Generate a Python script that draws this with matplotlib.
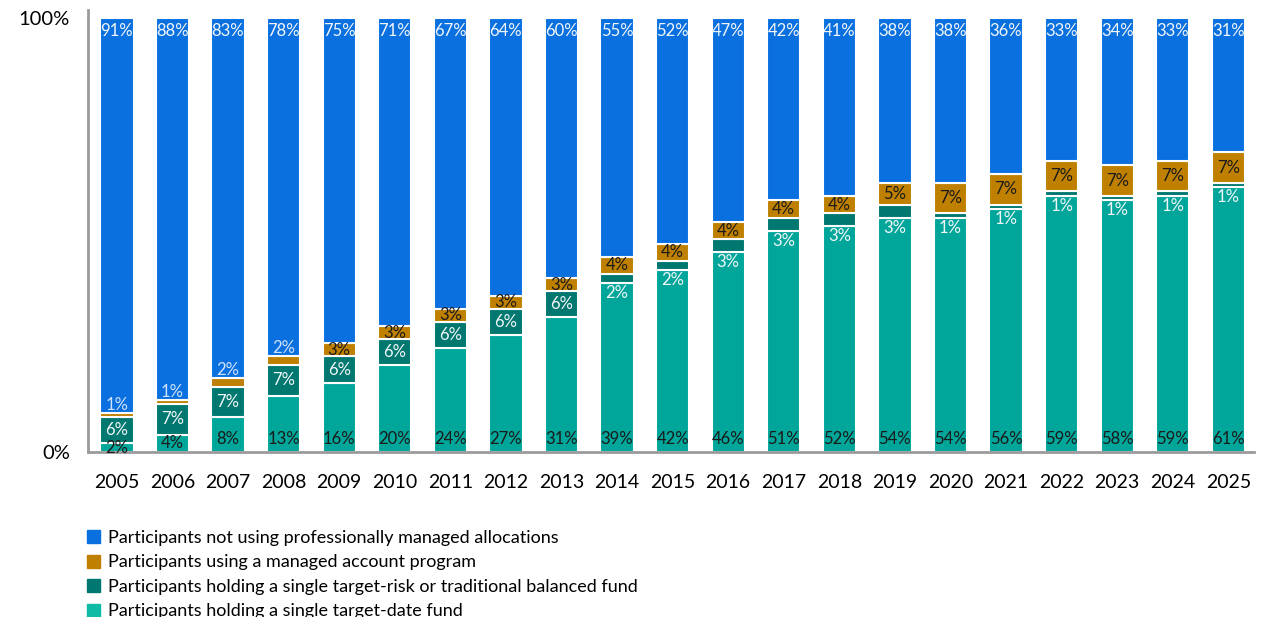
import matplotlib
matplotlib.use("Agg")
import matplotlib.pyplot as plt
import numpy as np

plt.rcParams['font.family'] = ['Lato', 'DejaVu Sans']

years = [str(y) for y in range(2005, 2026)]

# shares of participants, in percent
target_date = [2, 4, 8, 13, 16, 20, 24, 27, 31, 39, 42, 46, 51, 52, 54, 54, 56, 59, 58, 59, 61]
target_risk = [6, 7, 7, 7, 6, 6, 6, 6, 6, 2, 2, 3, 3, 3, 3, 1, 1, 1, 1, 1, 1]
managed_acct = [1, 1, 2, 2, 3, 3, 3, 3, 3, 4, 4, 4, 4, 4, 5, 7, 7, 7, 7, 7, 7]
not_managed = [91, 88, 83, 78, 75, 71, 67, 64, 60, 55, 52, 47, 42, 41, 38, 38, 36, 33, 34, 33, 31]

series_names = [
    "Participants not using professionally managed allocations",
    "Participants using a managed account program",
    "Participants holding a single target-risk or traditional balanced fund",
    "Participants holding a single target-date fund",
]

c_blue = "#0A70E0"
c_gold = "#BF8000"
c_dteal = "#00786F"
c_teal = "#00A69A"
dark_txt = "#1a1a1a"
light_txt = "#f2f6f8"

fig = plt.figure(figsize=(12.61, 6.17), dpi=100)
ax = fig.add_axes([0.0698, 0.2674, 0.925, 0.7164])

x = np.arange(len(years))
w = 0.6
td = np.array(target_date)
tr = np.array(target_risk)
ma = np.array(managed_acct)
nm = np.array(not_managed)

kw = dict(width=w, edgecolor="white", linewidth=1.5)
ax.bar(x, td, color=c_teal, **kw)
ax.bar(x, tr, bottom=td, color=c_dteal, **kw)
ax.bar(x, ma, bottom=td + tr, color=c_gold, **kw)
ax.bar(x, nm, bottom=td + tr + ma, color=c_blue, **kw)

fs = 12
for i in range(len(x)):
    # target-date: at the foot of the bar
    ax.text(x[i], min(td[i] / 2, 2.9), f"{td[i]}%", ha="center", va="center", fontsize=fs, color=dark_txt)
    # target-risk: inside when wide enough, otherwise just under it
    if tr[i] >= 5:
        ax.text(x[i], td[i] + tr[i] / 2, f"{tr[i]}%", ha="center", va="center", fontsize=fs, color=light_txt)
    else:
        ax.text(x[i], td[i] - 2.3, f"{tr[i]}%", ha="center", va="center", fontsize=fs, color=light_txt)
    # managed account: inside, or above on the blue when thin
    top = td[i] + tr[i] + ma[i]
    if ma[i] >= 3:
        ax.text(x[i], top - ma[i] / 2, f"{ma[i]}%", ha="center", va="center", fontsize=fs, color=dark_txt)
    else:
        ax.text(x[i], top + 1.9, f"{ma[i]}%", ha="center", va="center", fontsize=fs, color="#cfe2f8")
    # not managed: near the top
    ax.text(x[i], 97, f"{nm[i]}%", ha="center", va="center", fontsize=fs, color=light_txt)

ax.set_xlim(-0.52, len(x) - 1 + 0.47)
ax.set_ylim(0, 101.8)
ax.set_yticks([0, 100])
ax.set_yticklabels(["0%", "100%"], fontsize=14.5)
ax.set_xticks(x)
ax.set_xticklabels(years, fontsize=14)
ax.tick_params(axis="y", length=0, pad=13)
ax.tick_params(axis="x", length=0, pad=16)
for s in ["top", "right"]:
    ax.spines[s].set_visible(False)
for s in ["left", "bottom"]:
    ax.spines[s].set_color("#9a9a9a")
    ax.spines[s].set_linewidth(2)

handles = [plt.Rectangle((0, 0), 1, 1, color=c) for c in [c_blue, c_gold, c_dteal, "#10BBA5"]]
fig.legend(handles, series_names, loc="upper left", bbox_to_anchor=(0.069, 0.141),
           frameon=False, fontsize=13, handlelength=0.72, handleheight=0.72,
           handletextpad=0.45, labelspacing=0.47, borderaxespad=0, borderpad=0)

fig.savefig("out.png", dpi=100)
